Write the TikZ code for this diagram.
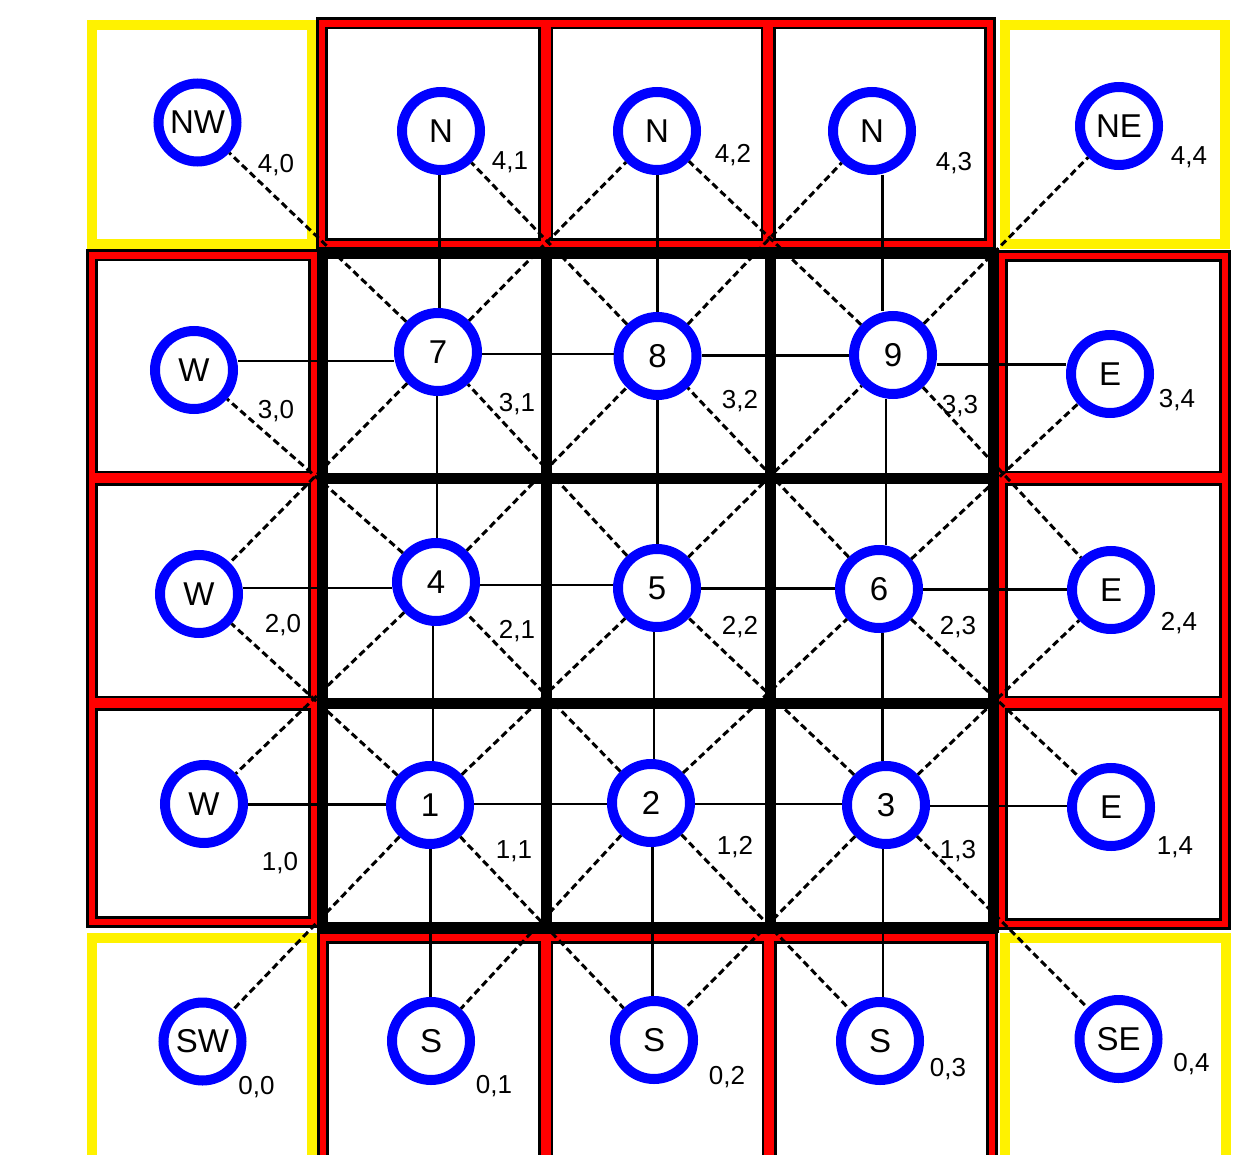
\documentclass[tikz,border=0pt]{standalone}
\usepackage{fontspec}
\setmainfont{Liberation Sans}
\usetikzlibrary{calc}
\begin{document}
\begin{tikzpicture}[x=1pt,y=-1pt,
  st/.style={circle,draw=blue,fill=white,line width=10pt,minimum size=78pt,inner sep=0pt,font=\fontsize{33}{33}\selectfont},
  lab/.style={font=\fontsize{26}{26}\selectfont,inner sep=0pt},
  solidc/.style={line width=2.5pt,black},
  dashc/.style={line width=3pt,black,dash pattern=on 7pt off 4pt},
  cornercell/.style={draw=yellow,line width=10pt},
  edgeouter/.style={draw=black,line width=12pt},
  edgeinner/.style={draw=red,line width=6.5pt},
  divouter/.style={draw=black,line width=15pt},
  divinner/.style={draw=red,line width=10pt},
  heavygrid/.style={draw=black,line width=11pt}
]
\useasboundingbox (0,0) rectangle (1234,1155);
\clip (0,0) rectangle (1234,1155);
\fill[white] (0,0) rectangle (1234,1155);

% corner cells
\path[cornercell] (92,25) rectangle (312,244);
\path[cornercell] (1005,25) rectangle (1225,244);
\path[cornercell] (92,938) rectangle (312,1190);
\path[cornercell] (1005,938) rectangle (1226,1190);

% edge cells: black pass then red pass
\foreach \sty/\dsty in {edgeouter/divouter,edgeinner/divinner}{
  \path[\sty] (322,23.5) rectangle (990,244);
  \path[\sty] (323,937.5) rectangle (992,1190);
  \path[\sty] (92,255.5) rectangle (314,922);
  \path[\sty] (1002,256) rectangle (1225,924);
  \path[\dsty] (545.5,23.5) -- (545.5,244) (768,23.5) -- (768,244);
  \path[\dsty] (545.5,937.5) -- (545.5,1190) (769,937.5) -- (769,1190);
  \path[\dsty] (92,478) -- (314,478) (92,703) -- (314,703);
  \path[\dsty] (1002,478) -- (1225,478) (1002,703) -- (1225,703);
}

% heavy inner grid
\path[heavygrid] (322,254) rectangle (993,927.5);
\path[heavygrid] (546,254) -- (546,927.5) (770,254) -- (770,927.5);
\path[heavygrid] (322,478) -- (993,478) (322,703) -- (993,703);

% nodes
\node[st] (n40) at (197.5,122.5) {NW};
\node[st] (n41) at (441,131) {N};
\node[st] (n42) at (657,131) {N};
\node[st] (n43) at (872,131) {N};
\node[st] (n44) at (1119,126) {NE};
\node[st] (n30) at (194,370) {W};
\node[st] (n31) at (438,352) {7};
\node[st] (n32) at (657.5,356) {8};
\node[st] (n33) at (893,355) {9};
\node[st] (n34) at (1110,374) {E};
\node[st] (n20) at (199,594) {W};
\node[st] (n21) at (436,582) {4};
\node[st] (n22) at (657,588) {5};
\node[st] (n23) at (879,589) {6};
\node[st] (n24) at (1111,590) {E};
\node[st] (n10) at (204,804) {W};
\node[st] (n11) at (430,805) {1};
\node[st] (n12) at (651,803) {2};
\node[st] (n13) at (886,805) {3};
\node[st] (n14) at (1111,807) {E};
\node[st] (n00) at (202.5,1041.5) {SW};
\node[st] (n01) at (431,1041) {S};
\node[st] (n02) at (654,1040) {S};
\node[st] (n03) at (880,1041) {S};
\node[st] (n04) at (1118.5,1039) {SE};

% solid connectors: nearly axis-aligned, at the mid line between the two nodes
\foreach \r in {0,1,2,3}{
  \foreach \c in {1,2,3}{
    \pgfmathtruncatemacro\ru{\r+1}
    \coordinate (mv\r\c) at ($(n\r\c)!0.5!(n\ru\c)$);
    \draw[solidc] (mv\r\c |- n\ru\c.south) -- (mv\r\c |- n\r\c.north);
  }
}
\foreach \r in {1,2,3}{
  \foreach \c in {0,1,2,3}{
    \pgfmathtruncatemacro\cr{\c+1}
    \coordinate (mh\r\c) at ($(n\r\c)!0.5!(n\r\cr)$);
    \draw[solidc] (mh\r\c -| n\r\c.east) -- (mh\r\c -| n\r\cr.west);
  }
}

% dashed connectors (each pair drawn once)
\foreach \r in {1,2,3}{
  \foreach \c in {1,2,3}{
    \pgfmathtruncatemacro\ru{\r+1}
    \pgfmathtruncatemacro\rd{\r-1}
    \pgfmathtruncatemacro\cl{\c-1}
    \pgfmathtruncatemacro\cr{\c+1}
    \draw[dashc] (n\r\c) -- (n\ru\cl);
    \draw[dashc] (n\r\c) -- (n\ru\cr);
    \pgfmathtruncatemacro\dl{(\rd==0)||(\cl==0)}
    \pgfmathtruncatemacro\dr{(\rd==0)||(\cr==4)}
    \ifnum\dl=1 \draw[dashc] (n\r\c) -- (n\rd\cl);\fi
    \ifnum\dr=1 \draw[dashc] (n\r\c) -- (n\rd\cr);\fi
  }
}

% labels
\node[lab] (l40) at (276,165) {4,0};
\node[lab] (l41) at (510,162) {4,1};
\node[lab] (l42) at (733,155) {4,2};
\node[lab] (l43) at (954,163) {4,3};
\node[lab] (l44) at (1189,157) {4,4};
\node[lab] (l30) at (276,411) {3,0};
\node[lab] (l31) at (517,404) {3,1};
\node[lab] (l32) at (740,401) {3,2};
\node[lab] (l33) at (960,406) {3,3};
\node[lab] (l34) at (1177,400) {3,4};
\node[lab] (l20) at (283,625) {2,0};
\node[lab] (l21) at (517,631) {2,1};
\node[lab] (l22) at (740,627) {2,2};
\node[lab] (l23) at (958,627) {2,3};
\node[lab] (l24) at (1179,623) {2,4};
\node[lab] (l10) at (280,863) {1,0};
\node[lab] (l11) at (514,851) {1,1};
\node[lab] (l12) at (735,847) {1,2};
\node[lab] (l13) at (958,851) {1,3};
\node[lab] (l14) at (1175,847) {1,4};
\node[lab] (l00) at (256.5,1087) {0,0};
\node[lab] (l01) at (494,1086) {0,1};
\node[lab] (l02) at (727,1077) {0,2};
\node[lab] (l03) at (948,1069) {0,3};
\node[lab] (l04) at (1191.5,1064) {0,4};
\end{tikzpicture}
\end{document}
